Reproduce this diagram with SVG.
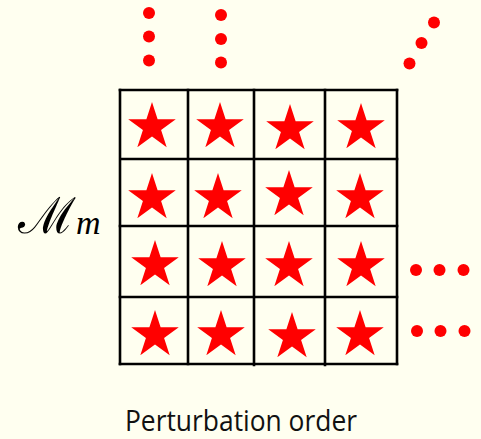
<svg xmlns="http://www.w3.org/2000/svg" width="481" height="439" viewBox="0 0 481 439">
<defs>
<style>
.grid line{stroke:#000;stroke-width:2.6;stroke-linecap:square}
.star{fill:#ff0000}
.dot{fill:#ff0000}
.lbl{font-family:"Open Sans","Noto Sans",sans-serif;fill:#111}
</style>
<path id="star" d="M0,-25 L5.61,-7.73 L23.78,-7.73 L9.08,2.95 L14.69,20.23 L0,9.55 L-14.69,20.23 L-9.08,2.95 L-23.78,-7.73 L-5.61,-7.73 Z"/>
</defs>
<rect width="481" height="439" fill="#fffff0"/>
<g id="grid" class="grid">
<line x1="120" y1="90" x2="397" y2="90"/>
<line x1="122" y1="159" x2="397" y2="159"/>
<line x1="120" y1="226" x2="397" y2="226"/>
<line x1="120" y1="297" x2="397" y2="297"/>
<line x1="120" y1="364" x2="397" y2="364"/>
<line x1="120" y1="90" x2="120" y2="364"/>
<line x1="188" y1="90" x2="188" y2="364"/>
<line x1="254" y1="90" x2="254" y2="365"/>
<line x1="325" y1="90" x2="325" y2="365"/>
<line x1="397" y1="90" x2="397" y2="364"/>
</g>
<g id="stars" class="star">
<use href="#star" x="152" y="127"/>
<use href="#star" x="220" y="127"/>
<use href="#star" x="290" y="129"/>
<use href="#star" x="361" y="128"/>
<use href="#star" x="152" y="198"/>
<use href="#star" x="218" y="198"/>
<use href="#star" x="289" y="195"/>
<use href="#star" x="360" y="198"/>
<use href="#star" x="155" y="265"/>
<use href="#star" x="222" y="266"/>
<use href="#star" x="289" y="266"/>
<use href="#star" x="361" y="266"/>
<use href="#star" x="155" y="335"/>
<use href="#star" x="221" y="335"/>
<use href="#star" x="292" y="337"/>
<use href="#star" x="360" y="335"/>
</g>
<g id="dots" class="dot">
<circle cx="149" cy="13" r="6"/>
<circle cx="149" cy="36.5" r="6"/>
<circle cx="149" cy="60.5" r="6"/>
<circle cx="221" cy="15" r="6"/>
<circle cx="221" cy="39" r="6"/>
<circle cx="221" cy="62.5" r="6"/>
<circle cx="434" cy="22.5" r="6"/>
<circle cx="421.5" cy="43" r="6"/>
<circle cx="409.5" cy="63.5" r="6"/>
<circle cx="416" cy="270" r="6"/>
<circle cx="439.5" cy="270" r="6"/>
<circle cx="463.5" cy="270" r="6"/>
<circle cx="417" cy="331" r="6"/>
<circle cx="440.5" cy="331" r="6"/>
<circle cx="464.5" cy="331" r="6"/>
</g>
<g id="label-m">
<text x="18" y="233" font-family="DejaVu Serif,serif" font-size="50" fill="#000">ℳ<tspan font-family="Liberation Serif,serif" font-style="italic" font-size="34" dy="1">m</tspan></text>
</g>
<g id="label-order">
<text class="lbl" x="125" y="431" font-size="30" textLength="232" lengthAdjust="spacingAndGlyphs">Perturbation order</text>
</g>
</svg>
